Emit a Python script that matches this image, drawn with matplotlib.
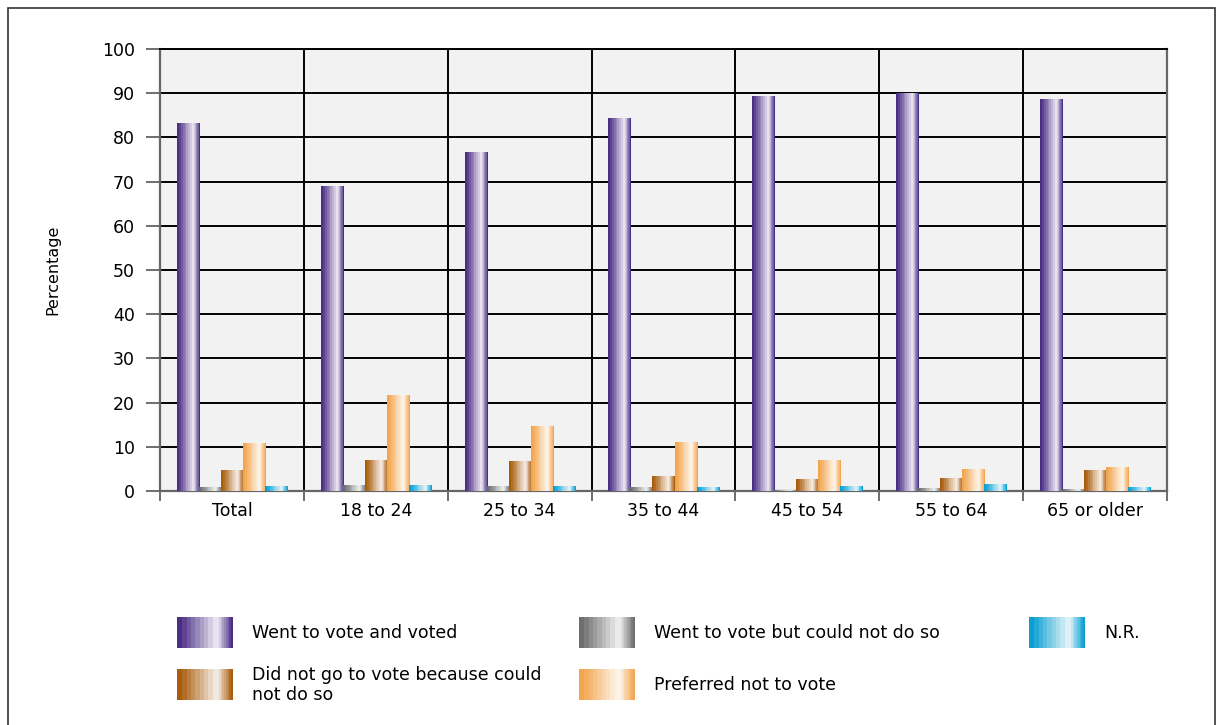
import numpy as np
import matplotlib
matplotlib.use('Agg')
import matplotlib.pyplot as plt
from matplotlib.colors import to_rgb
from matplotlib.patches import Rectangle

categories = ['Total', '18 to 24', '25 to 34', '35 to 44', '45 to 54', '55 to 64', '65 or older']
series_names = ['Went to vote and voted', 'Went to vote but could not do so',
                'Did not go to vote because could\nnot do so', 'Preferred not to vote', 'N.R.']
voted = [83.3, 69.0, 76.7, 84.4, 89.4, 90.0, 88.7]
could_not = [0.8, 1.4, 1.1, 0.8, 0.3, 0.6, 0.5]
did_not_go = [4.8, 7.0, 6.9, 3.4, 2.7, 2.9, 4.8]
preferred_not = [10.9, 21.7, 14.7, 11.1, 7.0, 5.0, 5.4]
no_reply = [1.1, 1.3, 1.1, 0.8, 1.1, 1.6, 0.8]
series = [voted, could_not, did_not_go, preferred_not, no_reply]
colors = ['#4a2d85', '#6e6e6e', '#a85c0c', '#f3a54e', '#0a9fd2']


def gradient(color, n=64):
	# banded left-to-right shading: dark -> white -> dark
	t = np.linspace(0, 1, n)
	w = np.where(t < 0.72, t / 0.72, (1 - t) / 0.28)
	w = np.floor(w * 9) / 9 * 0.97
	c = np.array(to_rgb(color))
	img = c[None, :] * (1 - w[:, None]) + w[:, None]
	return img[None, :, :]


plt.rcParams['font.family'] = ['DejaVu Sans']
fig = plt.figure(figsize=(12.23, 7.25), dpi=100)
ax = fig.add_axes([160 / 1223, 1 - 491 / 725, 1007 / 1223, 442 / 725])
ax.set_facecolor('#f2f2f2')

x = np.arange(len(categories))
width = 0.153
for i, (vals, col) in enumerate(zip(series, colors)):
	bars = ax.bar(x + (i - 2) * width, vals, width, color=col, linewidth=0, zorder=3)
	for b in bars:
		x0, y0 = b.get_x(), b.get_y()
		im = ax.imshow(gradient(col), extent=[x0, x0 + b.get_width(), y0, y0 + b.get_height()],
			aspect='auto', zorder=4, interpolation='nearest')
		im.set_clip_path(b)

ax.set_xlim(-0.5, len(categories) - 0.5)
ax.set_ylim(0, 100)
ax.set_yticks(np.arange(0, 101, 10))
ax.yaxis.grid(True, color='black', linewidth=1.4, zorder=1)
ax.set_axisbelow(True)
bounds = np.arange(0.5, len(categories) - 0.5, 1)
ax.vlines(bounds, 0, 100, color='black', linewidth=1.4, zorder=1)
ax.set_xticks(x)
ax.set_xticklabels(categories, fontsize=12.5)
ax.set_xticks(np.arange(-0.5, len(categories), 1), minor=True)
ax.tick_params(axis='x', which='major', length=0, pad=8)
ax.tick_params(axis='x', which='minor', length=7, width=1.2, color='#555555')
ax.tick_params(axis='y', length=10, width=1.2, color='#555555', labelsize=12.5, pad=8)
for s in ['left', 'bottom', 'right']:
	ax.spines[s].set_color('#666666')
	ax.spines[s].set_linewidth(1.6)
ax.spines['top'].set_color('black')
ax.spines['top'].set_linewidth(1.4)
ax.set_ylabel('Percentage', fontsize=11.5, labelpad=30)

# legend drawn on its own axes
lax = fig.add_axes([0, 0, 1, 1], facecolor='none')
lax.set_xlim(0, 1223)
lax.set_ylim(725, 0)
lax.axis('off')
legend_pos = [(177, 617), (579, 617), (1029, 617), (177, 669), (579, 669)]
legend_order = [0, 1, 4, 2, 3]
for (lx, ly), k in zip(legend_pos, legend_order):
	lax.imshow(gradient(colors[k]), extent=[lx, lx + 56, ly + 31, ly], aspect='auto',
		interpolation='nearest')
	lax.text(lx + 75, ly + 16, series_names[k], fontsize=12.5, va='center', ha='left',
		linespacing=1.1)
lax.set_xlim(0, 1223)
lax.set_ylim(725, 0)

fig.patches.append(Rectangle((8 / 1223, -0.01), 1207 / 1223, 1 - 8 / 725 + 0.01,
	transform=fig.transFigure, fill=False, edgecolor='#333333', linewidth=1.2))

fig.savefig('out.png', dpi=100)
